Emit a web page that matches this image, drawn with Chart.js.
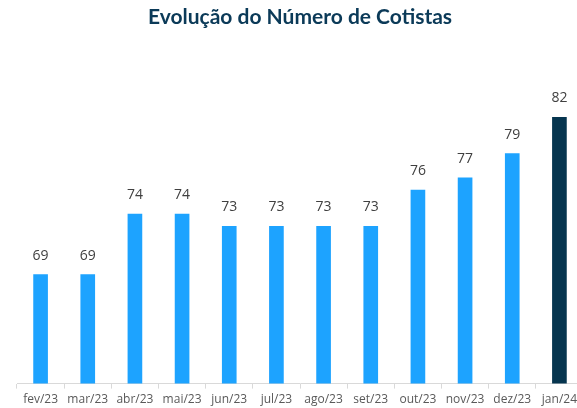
<!DOCTYPE html>
<html>
<head>
<meta charset="utf-8">
<script src="https://cdn.jsdelivr.net/npm/chart.js@4"></script>
<style>
html,body{margin:0;padding:0;background:#fff;overflow:hidden;}
#wrap{width:577px;height:408px;position:relative;overflow:hidden;}
</style>
</head>
<body>
<div id="wrap"><canvas id="c" width="600" height="413"></canvas></div>
<script>
const categories = ["fev/23","mar/23","abr/23","mai/23","jun/23","jul/23","ago/23","set/23","out/23","nov/23","dez/23","jan/24"];
const cotistas = [69,69,74,74,73,73,73,73,76,77,79,82];
const titleText = "Evolução do Número de Cotistas";
const lightBlue = "#1DA3FF";
const darkBlue = "#06354F";
const barColors = cotistas.map((v,i)=> i === cotistas.length-1 ? darkBlue : lightBlue);

const valueLabels = {
  id: 'valueLabels',
  afterDatasetsDraw(chart){
    const ctx = chart.ctx;
    const meta = chart.getDatasetMeta(0);
    ctx.save();
    ctx.font = '14px "Open Sans"';
    ctx.fillStyle = '#404040';
    ctx.textAlign = 'center';
    ctx.textBaseline = 'alphabetic';
    meta.data.forEach((bar,i)=>{
      ctx.fillText(String(cotistas[i]), bar.x, bar.y - 15);
    });
    ctx.restore();
  }
};

new Chart(document.getElementById('c'), {
  type: 'bar',
  data: {
    labels: categories,
    datasets: [{
      data: cotistas,
      backgroundColor: barColors,
      borderWidth: 0,
      barThickness: 14
    }]
  },
  options: {
    responsive: false,
    animation: false,
    layout: { padding: { left: 17, right: 17, top: 0, bottom: 2 } },
    plugins: {
      legend: { display: false },
      tooltip: { enabled: false },
      title: {
        display: true,
        text: titleText,
        color: '#0B3A58',
        font: { family: 'Lato', size: 21, weight: 'bold' },
        padding: { top: 5, bottom: 63 }
      }
    },
    scales: {
      y: { display: false, min: 60, max: 84 },
      x: {
        grid: { drawOnChartArea: false, drawTicks: true, tickLength: 5, color: '#D9D9D9', offset: true },
        border: { display: true, color: '#D9D9D9', width: 1 },
        ticks: { color: '#595959', padding: 4, font: { family: 'Open Sans', size: 12 }, maxRotation: 0, autoSkip: false }
      }
    }
  },
  plugins: [valueLabels]
});
</script>
</body>
</html>
